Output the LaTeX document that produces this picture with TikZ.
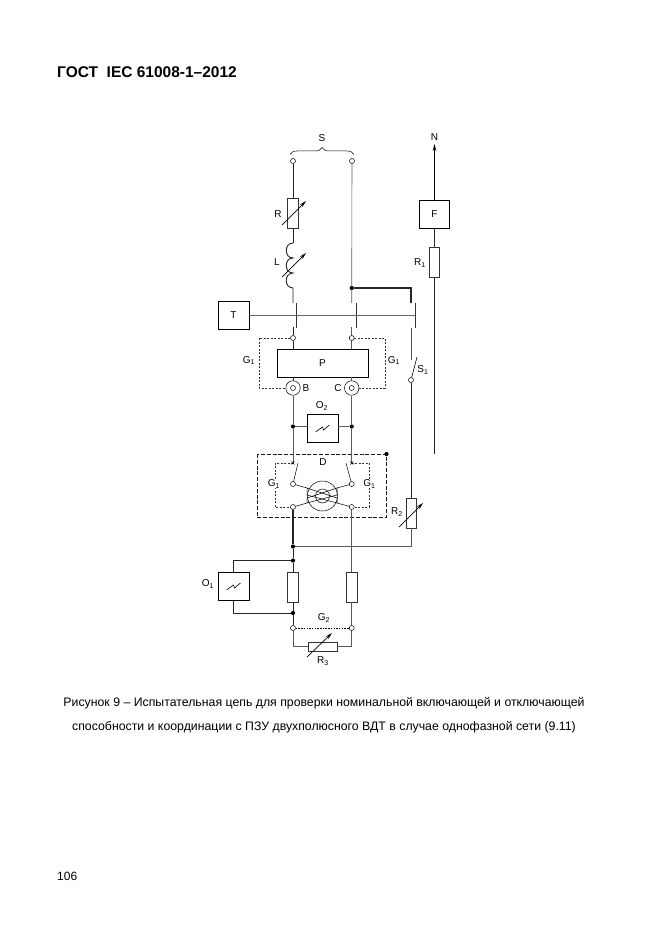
\documentclass[tikz,border=0pt]{standalone}
\usepackage{fontspec}
\setmainfont{Liberation Sans}
\usetikzlibrary{arrows.meta,positioning,calc,decorations.pathreplacing}
\definecolor{wiregray}{RGB}{90,90,90}

\begin{document}
\begin{tikzpicture}[x=1pt,y=-1pt]
    % Define styles
    \tikzstyle{box} = [rectangle, draw, fill=white, line width=0.7pt, inner sep=0pt, font=\fontsize{10}{10}\selectfont]
    \tikzstyle{res} = [rectangle, draw, line width=0.9pt, draw=black!80, fill=white, inner sep=0pt]
    \tikzstyle{term} = [circle, draw, fill=white, line width=0.5pt, inner sep=0pt, minimum size=5pt]
    \tikzstyle{junction} = [circle, fill=black, inner sep=0pt, minimum size=4.2pt]
    \tikzstyle{coax} = [circle, draw, fill=white, line width=0.5pt, inner sep=0pt, minimum size=14.5pt]
    \tikzstyle{lab} = [inner sep=0pt, font=\fontsize{10}{10}\selectfont]
    \tikzstyle{wire} = [line width=0.6pt, wiregray]
    \tikzstyle{heavy} = [line width=0.9pt, black!85]
    \tikzstyle{bar} = [line width=1pt, black!80]
    \tikzstyle{trim} = [line width=0.7pt, black, -{Stealth[length=7pt,width=3.6pt]}]
    \tikzstyle{shield} = [line width=0.6pt, dash pattern=on 2pt off 1.5pt, black!80]
    \useasboundingbox (0,0) rectangle (661,936);

    % Page text
    \node[anchor=west, inner sep=0pt, font=\bfseries\fontsize{15.5}{15.5}\selectfont] (head) at (57,72) {ГОСТ\ \ IEC 61008-1–2012};
    \node[inner sep=0pt, font=\fontsize{12.3}{12.3}\selectfont] (cap1) at (324,703) {Рисунок 9 – Испытательная цепь для проверки номинальной включающей и отключающей};
    \node[inner sep=0pt, font=\fontsize{12.3}{12.3}\selectfont] (cap2) at (324,727) {способности и координации с ПЗУ двухполюсного ВДТ в случае однофазной сети (9.11)};
    \node[anchor=west, inner sep=0pt, font=\fontsize{12}{12}\selectfont] (page) at (57,876) {106};

    % Source
    \node[term] (sL) at (293,161) {};
    \node[term] (sR) at (352,161) {};
    \coordinate (braceL) at (290,154.5);
    \coordinate (braceR) at (354,154.5);
    \draw[line width=0.5pt, decorate, decoration={brace, amplitude=7pt}] (braceL) -- (braceR);
    \node[lab] (labS) at (322,138) {S};

    % Impedances
    \node[res, minimum width=10.5pt, minimum height=30pt] (R) at (293,213) {};
    \node[lab] (labR) at (278,214) {R};
    \coordinate (Ra) at (282,225);
    \coordinate (Rb) at (306,201);
    \coordinate (coilTop) at (293,243);
    \coordinate (coilA) at (293,258);
    \coordinate (coilB) at (293,273);
    \coordinate (coilEnd) at (293,288);
    \coordinate (contactL) at (293,303);
    \node[lab] (labL) at (277,262) {L};
    \coordinate (La) at (282,277);
    \coordinate (Lb) at (306,253);

    % Main switch
    \node[box, minimum width=31pt, minimum height=28pt] (T) at (233.5,315.5) {T};
    \coordinate (barLa) at (296.5,303);
    \coordinate (barLb) at (296.5,328);
    \coordinate (barMa) at (356,303);
    \coordinate (barMb) at (356,328);
    \coordinate (barRa) at (415,303);
    \coordinate (barRb) at (415,328);
    \coordinate (barRm) at (415,315.5);
    \coordinate (lowL) at (293,327);
    \coordinate (lowM) at (351.7,327);
    \coordinate (contactM) at (351.7,303);
    \coordinate (contactR) at (411,303);
    \coordinate (lowR) at (411,328);
    \coordinate (upS) at (411,360);
    \node[junction] (jTop) at (351.7,288) {};
    \coordinate (corner) at (411,288);

    % Protective device
    \node[term] (pL) at (293,338) {};
    \node[term] (pR) at (351.7,338) {};
    \node[box, line width=0.9pt, minimum width=91pt, minimum height=28pt] (P) at (322.5,363) {P};
    \node[coax] (B) at (293,388) {};
    \node[coax] (C) at (351.7,388) {};
    \node[term] (Bin) at (293,388) {};
    \node[term] (Cin) at (351.7,388) {};
    \node[lab] (labB) at (306,388.5) {B};
    \node[lab] (labC) at (338,388) {C};
    \coordinate (gTL) at (259,338);
    \coordinate (gTR) at (385,338);
    \coordinate (gBL) at (259,388);
    \coordinate (gBR) at (385,388);
    \node[lab] (labG1a) at (249,360.5) {G\textsubscript{1}};
    \node[lab] (labG1b) at (394,360.5) {G\textsubscript{1}};

    % Auxiliary switch
    \node[term] (s1) at (411,380) {};
    \coordinate (s1top) at (417,357);
    \node[lab] (labS1) at (423,370) {S\textsubscript{1}};

    % Oscilloscope O2
    \node[box, minimum width=31pt, minimum height=28pt] (O2) at (322.5,428) {};
    \node[lab] (labO2) at (322,406) {O\textsubscript{2}};
    \node[junction] (j2L) at (293,426.5) {};
    \node[junction] (j2R) at (351.7,426.5) {};

    % Neutral branch
    \coordinate (Ntip) at (434.5,144);
    \node[lab] (labN) at (434.5,137) {N};
    \node[box, minimum width=30pt, minimum height=28pt] (F) at (434.5,214) {F};
    \node[res, minimum width=10pt, minimum height=30pt] (R1) at (434.5,262) {};
    \node[lab] (labR1) at (420,263) {R\textsubscript{1}};
    \coordinate (Nend) at (434.5,454);

    % Device D
    \coordinate (dA) at (257,454);
    \coordinate (dC) at (386,517.5);
    \coordinate (iAL) at (275,463);
    \coordinate (iDL) at (275,507);
    \coordinate (iAR) at (369,463);
    \coordinate (iDR) at (369,507);
    \coordinate (crossL) at (293,463);
    \coordinate (crossR) at (351.7,463);
    \coordinate (bladeL) at (298,463);
    \coordinate (bladeR) at (346,463);
    \draw[line width=0.9pt, dash pattern=on 4pt off 1.8pt, black!90] (dA) rectangle (dC);
    \draw[shield, line width=0.5pt] (crossL) -- (iAL) -- (iDL) -- (293,507);
    \draw[shield, line width=0.5pt] (crossR) -- (iAR) -- (iDR) -- (351.7,507);
    \node[junction] (dB) at (386.5,454) {};
    \node[term] (dUL) at (293,484) {};
    \node[term] (dUR) at (351.7,484) {};
    \node[term] (dLL) at (293,507) {};
    \node[term] (dLR) at (351.7,507) {};
    \node[circle, draw, line width=0.5pt, minimum size=30pt, inner sep=0pt] (core) at (322.5,496) {};
    \node[circle, draw, line width=0.5pt, minimum size=14pt, inner sep=0pt] (hole) at (322.5,496) {};
    \node[lab] (labD) at (323,462) {D};
    \node[lab, fill=white] (labG1c) at (274,484) {G\textsubscript{1}};
    \node[lab, fill=white] (labG1d) at (369.5,484) {G\textsubscript{1}};
    \coordinate (bandUL) at (307,488);
    \coordinate (bandUR) at (337,488);
    \coordinate (bandLL) at (307,503);
    \coordinate (bandLR) at (337,503);

    % Resistor R2
    \node[res, minimum width=10pt, minimum height=30pt] (R2) at (411,513) {};
    \node[lab] (labR2) at (397,512) {R\textsubscript{2}};
    \coordinate (R2a) at (399,527);
    \coordinate (R2b) at (423,503);
    \node[junction] (j3) at (293,546.5) {};
    \coordinate (back) at (411,546.5);

    % Oscilloscope O1 and load
    \node[box, minimum width=31pt, minimum height=28pt] (O1) at (233.5,586) {};
    \node[lab] (labO1) at (208,584) {O\textsubscript{1}};
    \node[junction] (j4) at (293,560.5) {};
    \node[junction] (j5) at (293,613) {};
    \coordinate (o1Up) at (233.5,560.5);
    \coordinate (o1Dn) at (233.5,613);
    \node[res, minimum width=10.5pt, minimum height=30pt] (Za) at (293,587) {};
    \node[res, minimum width=10.5pt, minimum height=30pt] (Zb) at (351.7,587) {};
    \node[term] (g2L) at (293,628) {};
    \node[term] (g2R) at (351.7,628) {};
    \node[lab] (labG2) at (324,618) {G\textsubscript{2}};
    \node[res, minimum width=29pt, minimum height=9pt] (R3) at (322.5,646.5) {};
    \coordinate (r3L) at (293,646.5);
    \coordinate (r3R) at (351.7,646.5);
    \coordinate (R3a) at (307,657);
    \coordinate (R3b) at (332,633);
    \node[lab] (labR3) at (323,661) {R\textsubscript{3}};

    % Wires
    \draw[heavy] (sL) -- (R);
    \draw[heavy] (R) -- (coilTop);
    \draw[heavy] (coilTop) .. controls ($(coilTop)+(-9,0)$) and ($(coilA)+(-9,0)$) .. (coilA)
        .. controls ($(coilA)+(-9,0)$) and ($(coilB)+(-9,0)$) .. (coilB)
        .. controls ($(coilB)+(-9,0)$) and ($(coilEnd)+(-9,0)$) .. (coilEnd) -- (contactL);
    \draw[wire] (sR) -- (jTop) -- (contactM);
    \draw[heavy, line width=1.2pt] (jTop) -- (corner) -- (contactR);
    \draw[bar] (barLa) -- (barLb);
    \draw[bar] (barMa) -- (barMb);
    \draw[bar] (barRa) -- (barRb);
    \draw[line width=0.4pt, black!60] (T) -- (barRm);
    \draw[heavy] (lowL) -- (pL);
    \draw[wire] (lowM) -- (pR);
    \draw[heavy] (pL) -- (pL |- P.north);
    \draw[wire] (pR) -- (pR |- P.north);
    \draw[heavy] (pL |- P.south) -- (B);
    \draw[wire] (pR |- P.south) -- (C);
    \draw[shield] (pL) -- (gTL) -- (gBL) -- (B);
    \draw[shield] (pR) -- (gTR) -- (gBR) -- (C);
    \draw[wire] (lowR) -- (upS);
    \draw[line width=0.6pt] (s1) -- (s1top);
    \draw[heavy] (s1) -- (R2);
    \draw[wire] (B) -- (j2L) -- (crossL);
    \draw[wire] (C) -- (j2R) -- (crossR);
    \draw[wire] (j2L) -- (j2L -| O2.west);
    \draw[wire] (j2R) -- (j2R -| O2.east);
    \draw[trim] (F) -- (Ntip);
    \draw[heavy] (F) -- (R1);
    \draw[heavy] (R1) -- (Nend);

    % Device D inside
    \draw[line width=0.5pt] (bladeL) -- (dUL);
    \draw[line width=0.5pt] (bladeR) -- (dUR);
    \draw[line width=0.5pt] ($(crossL)+(-1.5,-1.5)$) -- ($(crossL)+(1.5,1.5)$);
    \draw[line width=0.5pt] ($(crossL)+(-1.5,1.5)$) -- ($(crossL)+(1.5,-1.5)$);
    \draw[line width=0.5pt] ($(crossR)+(-1.5,-1.5)$) -- ($(crossR)+(1.5,1.5)$);
    \draw[line width=0.5pt] ($(crossR)+(-1.5,1.5)$) -- ($(crossR)+(1.5,-1.5)$);
    \draw[line width=0.5pt] (dUL) -- (bandUL);
    \draw[line width=0.5pt] (dUR) -- (bandUR);
    \draw[line width=0.5pt] (dLL) -- (bandLL);
    \draw[line width=0.5pt] (dLR) -- (bandLR);
    \draw[line width=0.5pt] (bandUL) -- ++(0,7) -- (bandLR) -- ++(0,-5) -- cycle;
    \draw[line width=0.5pt] (bandUR) -- ++(0,7) -- (bandLL) -- ++(0,-5) -- cycle;
    \draw[heavy, line width=1.2pt] (dLL) -- (j3);
    \draw[wire] (dLR) -- (Zb);
    \draw[wire] (R2) -- (back) -- (j3);

    % Load
    \draw[heavy] (j3) -- (j4) -- (Za);
    \draw[heavy] (Za) -- (j5) -- (g2L);
    \draw[heavy] (j4) -- (o1Up) -- (O1);
    \draw[heavy] (O1) -- (o1Dn) -- (j5);
    \draw[wire] (Zb) -- (g2R);
    \draw[line width=0.7pt, dash pattern=on 1.5pt off 1.2pt] (g2L) -- (g2R);
    \draw[wire] (g2L) -- (r3L) -- (R3);
    \draw[wire] (g2R) -- (r3R) -- (R3);

    % Adjustment arrows
    \draw[trim] (Ra) -- (Rb);
    \draw[trim] (La) -- (Lb);
    \draw[trim] (R2a) -- (R2b);
    \draw[trim] (R3a) -- (R3b);

    % Trace signs
    \draw[line width=0.6pt] ($(O2)+(-7,4)$) -- ($(O2)+(0,-1)$) -- ($(O2)+(1,2)$) -- ($(O2)+(7,-3)$);
    \draw[line width=0.6pt] ($(O1)+(-7,4)$) -- ($(O1)+(0,-1)$) -- ($(O1)+(1,2)$) -- ($(O1)+(7,-3)$);

\end{tikzpicture}
\end{document}
